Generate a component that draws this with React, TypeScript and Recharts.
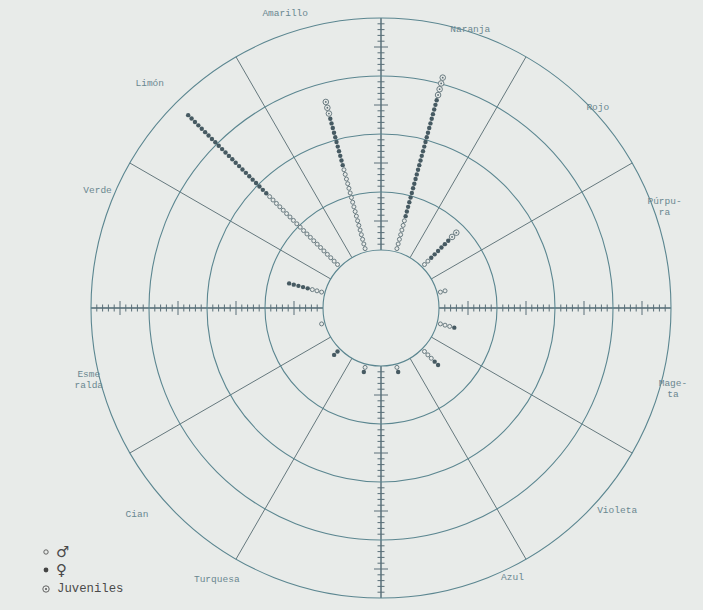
import {
  ScatterChart, Scatter, XAxis, YAxis, ReferenceDot, ReferenceLine,
} from "recharts";

const W = 703;
const H = 610;
const CX = 381;
const CY = 308;
const UNIT = 58; // px per ring
const BG = "#e8ebe9";
const FONT = "'Liberation Mono', 'DejaVu Sans Mono', monospace";

// sectors counter-clockwise from 0° (east), 30° each
const SECTORS = [
  "Púrpura", "Rojo", "Naranja", "Amarillo", "Limón", "Verde",
  "Esmeralda", "Cian", "Turquesa", "Azul", "Violeta", "Magenta",
];
const LABEL_LINES = [
  ["Púrpu-", "ra"], ["Rojo"], ["Naranja"], ["Amarillo"], ["Limón"], ["Verde"],
  ["Esme", "ralda"], ["Cian"], ["Turquesa"], ["Azul"], ["Violeta"], ["Mage-", "ta"],
];
// number of individuals per colour
const MALES = [2, 2, 7, 18, 21, 3, 1, 0, 1, 1, 3, 3];
const FEMALES = [0, 6, 26, 11, 24, 5, 0, 2, 1, 1, 2, 1];
const JUVENILES = [0, 2, 4, 3, 0, 0, 0, 0, 0, 0, 0, 0];
const RINGS = [1, 2, 3, 4, 5];
const KEY_ORDER = ["♂", "♀", "Juveniles"];

// where the typed labels sit: [angle deg, radius px]
const LABEL_POS = [
  [19.6, 301], [42.7, 295], [72.2, 292], [108, 310], [135.9, 322], [157.4, 307],
  [193.9, 301], [220.3, 320], [238.8, 317], [296, 300], [319.4, 311], [344.5, 303],
];

const rad = (d: number) => (d * Math.PI) / 180;

interface Pt { x: number; y: number }

const STEP = 4.8;
const JSTEP = 6;
const R0 = UNIT + 3.5;

const males: Pt[] = [];
const females: Pt[] = [];
const juveniles: Pt[] = [];
SECTORS.forEach((_, i) => {
  const a = rad(30 * i + 15);
  const kinds = [
    ...Array(MALES[i]).fill(0),
    ...Array(FEMALES[i]).fill(1),
    ...Array(JUVENILES[i]).fill(2),
  ];
  let r = R0;
  let prev = 0;
  kinds.forEach((k, j) => {
    const s = k === 2 ? JSTEP : STEP;
    if (j > 0) r += (prev + s) / 2;
    prev = s;
    const p = { x: (r * Math.cos(a)) / UNIT, y: (r * Math.sin(a)) / UNIT };
    (k === 0 ? males : k === 1 ? females : juveniles).push(p);
  });
});

// graduation along the four half axes, tenths of a ring
const graduation: (Pt & { vert: boolean; major: boolean })[] = [];
[0, 90, 180, 270].forEach((d) => {
  for (let k = 11; k < 50; k++) {
    if (k % 10 === 0) continue;
    const r = k / 10;
    graduation.push({
      x: r * Math.round(Math.cos(rad(d))),
      y: r * Math.round(Math.sin(rad(d))),
      vert: d % 180 === 0,
      major: k % 10 === 5,
    });
  }
});

const labels = SECTORS.map((name, i) => {
  const [ang, r] = LABEL_POS[i];
  return { name, lines: LABEL_LINES[i], x: (r * Math.cos(rad(ang))) / UNIT, y: (r * Math.sin(rad(ang))) / UNIT };
});

const TickMark = (p: any) => {
  const h = p.payload.major ? 7 : 3.5;
  return p.payload.vert
    ? <line x1={p.cx} x2={p.cx} y1={p.cy - h} y2={p.cy + h} stroke="#5a6f78" strokeWidth={1} />
    : <line x1={p.cx - h} x2={p.cx + h} y1={p.cy} y2={p.cy} stroke="#5a6f78" strokeWidth={1} />;
};

const MaleDot = (p: any) => (
  <circle cx={p.cx} cy={p.cy} r={2} fill={BG} stroke="#5c6f76" strokeWidth={0.9} />
);
const FemaleDot = (p: any) => <circle cx={p.cx} cy={p.cy} r={2.2} fill="#465a62" />;
const JuvDot = (p: any) => (
  <g>
    <circle cx={p.cx} cy={p.cy} r={2.8} fill={BG} stroke="#5c6f76" strokeWidth={0.9} />
    <circle cx={p.cx} cy={p.cy} r={0.9} fill="#5c6f76" />
  </g>
);

const LabelText = (p: any) => {
  const lines: string[] = p.payload.lines;
  const top = p.cy - ((lines.length - 1) * 11) / 2;
  return (
    <text textAnchor="middle" fontFamily={FONT} fontSize={9.5} fill="#6a8790">
      {lines.map((l, i) => (
        <tspan key={i} x={p.cx} y={top + i * 11} dominantBaseline="middle">{l}</tspan>
      ))}
    </text>
  );
};

const SYMBOLS: Record<string, JSX.Element> = {
  "♂": <circle cx={5} cy={6} r={2.2} fill="none" stroke="#555" strokeWidth={0.9} />,
  "♀": <circle cx={5} cy={6} r={2.4} fill="#444" />,
  Juveniles: (
    <g>
      <circle cx={5} cy={6} r={3.2} fill="none" stroke="#555" strokeWidth={0.9} />
      <circle cx={5} cy={6} r={1} fill="#555" />
    </g>
  ),
};

function KeyBox() {
  return (
    <div style={{ position: "absolute", left: 41, top: 543, fontFamily: FONT, color: "#4a4a4a" }}>
      {KEY_ORDER.map((name) => {
        const word = name === "Juveniles";
        return (
          <div key={name} style={{ display: "flex", alignItems: "center", height: word ? 20 : 18 }}>
            <svg width={12} height={12} style={{ marginRight: word ? 4 : 3 }}>{SYMBOLS[name]}</svg>
            <span style={{ fontSize: word ? 12.3 : 15, lineHeight: "15px", fontFamily: word ? FONT : "'DejaVu Sans'" }}>
              {name}
            </span>
          </div>
        );
      })}
    </div>
  );
}

export default function App() {
  return (
    <div style={{ position: "absolute", left: 0, top: 0, width: W, height: H, background: BG }}>
      <ScatterChart width={W} height={H} margin={{ top: 0, right: 0, bottom: 0, left: 0 }}>
        <XAxis type="number" dataKey="x" hide domain={[-CX / UNIT, (W - CX) / UNIT]} allowDataOverflow />
        <YAxis type="number" dataKey="y" hide domain={[-(H - CY) / UNIT, CY / UNIT]} allowDataOverflow />
        {RINGS.map((k) => (
          <ReferenceDot key={`ring${k}`} x={0} y={0} r={k * UNIT} fill="none" stroke="#5b8690" strokeWidth={1.1} />
        ))}
        {SECTORS.map((_, i) => {
          const a = rad(30 * i);
          const axis = i % 3 === 0;
          return (
            <ReferenceLine
              key={`spoke${i}`}
              segment={[
                { x: Math.cos(a), y: Math.sin(a) },
                { x: 5 * Math.cos(a), y: 5 * Math.sin(a) },
              ]}
              stroke={axis ? "#4f6872" : "#65787d"}
              strokeWidth={axis ? 1.4 : 1}
            />
          );
        })}
        <Scatter data={graduation} shape={TickMark} isAnimationActive={false} />
        <Scatter name="♂" data={males} shape={MaleDot} isAnimationActive={false} />
        <Scatter name="♀" data={females} shape={FemaleDot} isAnimationActive={false} />
        <Scatter name="Juveniles" data={juveniles} shape={JuvDot} isAnimationActive={false} />
        <Scatter data={labels} shape={LabelText} isAnimationActive={false} />
      </ScatterChart>
      <KeyBox />
    </div>
  );
}
